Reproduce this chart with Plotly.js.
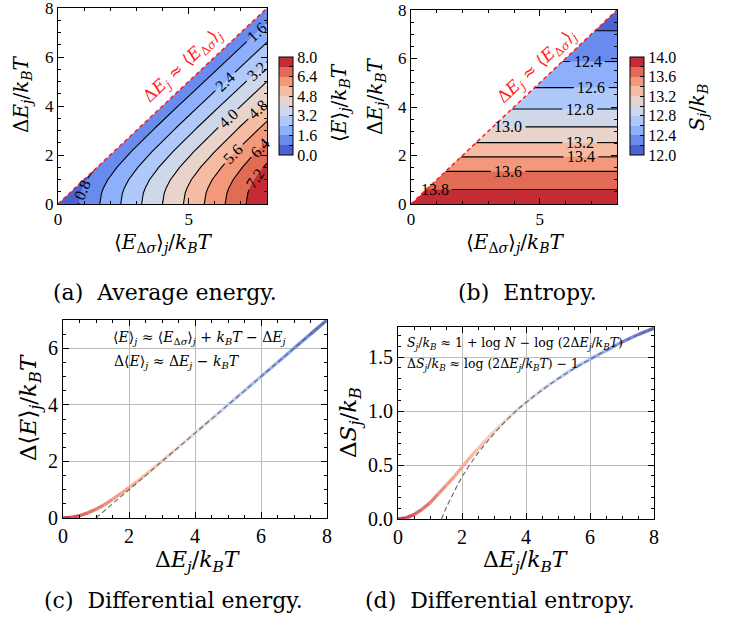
<!DOCTYPE html>
<html><head><meta charset="utf-8">
<script src="https://cdn.plot.ly/plotly-3.0.1.min.js"></script>
<style>html,body{margin:0;padding:0;background:#fff}#chart{width:746px;height:623px}</style>
</head><body><div id="chart"></div>
<script>
// sample values of ΔE_j/k_BT (also used for <E_Δσ>_j/k_BT grid)
const dE = [0,0.25,0.5,0.75,1,1.25,1.5,1.75,2,2.25,2.5,2.75,3,3.25,3.5,3.75,4,4.5,5,5.5,6,6.5,7,7.5,8];
// (c) differential energy Δ<E>_j/k_BT
const dEnergy = [0,0.02,0.08,0.18,0.31,0.47,0.66,0.86,1.07,1.30,1.53,1.77,2.01,2.26,2.51,2.75,3.00,3.50,4.00,4.50,5.00,5.50,6.00,6.50,7.00];
// (d) differential entropy ΔS_j/k_B
const dEntropy = [0,0.01,0.04,0.09,0.15,0.23,0.31,0.39,0.48,0.57,0.65,0.73,0.81,0.88,0.95,1.02,1.08,1.20,1.30,1.40,1.48,1.56,1.64,1.71,1.77];
// dashed asymptotes
const asymCX = [1,8], asymCY = [0,7];
const asymDX = [1.36,1.5,1.75,2,2.5,3,3.5,4,5,6,7,8];
const asymDY = [0,0.10,0.25,0.39,0.61,0.79,0.95,1.08,1.30,1.48,1.64,1.77];
// entropy at ΔE_j = 0 (top band of panel b)
const S0 = 13.86;
const rangeE = [0,8];
// contour levels and colour-bar ranges
const levelsA = [0.8,1.6,2.4,3.2,4.0,4.8,5.6,6.4,7.2], cbA = [0,8];
const levelsB = [12.2,12.4,12.6,12.8,13.0,13.2,13.4,13.6,13.8], cbB = [12,14];
// inline label placement: (a) ΔE_j where the label sits, (b) <E_Δσ>_j where it sits
const labelAtA = {'0.8':0.57,'1.6':7.0,'2.4':5.0,'3.2':5.4,'4.0':3.5,'4.8':3.85,'5.6':2.05,'6.4':2.3,'7.2':1.05};
const labelAtB = {'12.4':6.86,'12.6':7.0,'12.8':6.55,'13.0':3.77,'13.2':6.55,'13.4':6.6,'13.6':3.77,'13.8':0.93};

const cw = ['#3b4cc0','#5977e3','#7b9ff9','#9ebeff','#c0d4f5','#dddcdc','#f2cbb7','#f7ac8e','#ee8468','#d65244','#b40426'];
function hex2rgb(h){return [1,3,5].map(i=>parseInt(h.substr(i,2),16));}
function coolwarm(t){
  t=Math.max(0,Math.min(1,t)); const p=t*10; const i=Math.min(9,Math.floor(p)); const f=p-i;
  const a=hex2rgb(cw[i]), b=hex2rgb(cw[i+1]);
  return a.map((v,k)=>Math.round(v+(b[k]-v)*f));
}
const bandCol = Array.from({length:10},(_,k)=>'rgb('+coolwarm((k+0.5)/10).join(',')+')');
const bandCS = bandCol.map((c,k)=>[k/9,c]);
const stepCS = [];
bandCol.forEach((c,k)=>{stepCS.push([k/10,c]);stepCS.push([(k+1)/10,c]);});

const FONT = 'Liberation Serif, DejaVu Serif, serif';
const MATH = 'DejaVu Serif, serif';
const zA = dE.map((y,i)=>dE.map(x=>x-dEnergy[i]));
const zB = dE.map((y,i)=>dE.map(x=>S0-dEntropy[i]));

// pixel boxes of the panels
const box = {a:[58,267,8,204], b:[411,617,10,204], c:[63,327,320,518], d:[398,654,327,519]};
const px = p=>p/746, py = p=>1-p/623;

function lerp(xs, ys, v){
  for(let i=0;i<xs.length-1;i++){ if(v>=xs[i] && v<=xs[i+1]){ const t=(v-xs[i])/(xs[i+1]-xs[i]); return [ys[i]+t*(ys[i+1]-ys[i]), i]; } }
  return [null,-1];
}
// break a polyline around a label centre (pixel radius r)
function cutLine(xs, ys, cx, cy, r, ux, uy){
  const ox=[], oy=[]; let gap=false;
  for(let i=0;i<xs.length-1;i++){
    for(let s=0;s<20;s++){
      const t=s/20, x=xs[i]+t*(xs[i+1]-xs[i]), y=ys[i]+t*(ys[i+1]-ys[i]);
      const d=Math.hypot((x-cx)*ux,(y-cy)*uy);
      if(d<r){ if(!gap){ox.push(null);oy.push(null);gap=true;} }
      else { ox.push(x); oy.push(y); gap=false; }
    }
  }
  ox.push(xs[xs.length-1]); oy.push(ys[ys.length-1]);
  return [ox, oy];
}

function cbar(x, rng, step){
  const vals=[]; for(let k=0;k<=10;k++) vals.push(rng[0]+k*step);
  return {x:x, xanchor:'left', xpad:0, ypad:0, y:1-106/623, yanchor:'middle', len:98, lenmode:'pixels',
    thickness:14, thicknessmode:'pixels', outlinewidth:1, outlinecolor:'#000',
    tickvals:vals, ticktext:vals.map((v,k)=>k%2===0?v.toFixed(1):''), ticks:'inside', ticklen:4, tickcolor:'#000',
    tickfont:{family:FONT,size:16,color:'#000'}};
}
const traces = [];
const annotations = [];
traces.push({type:'contour', x:dE, y:dE, z:zA, xaxis:'x', yaxis:'y', colorscale:bandCS, showscale:false,
  contours:{start:levelsA[0],end:levelsA[levelsA.length-1],size:0.8,coloring:'fill',showlines:false},
  line:{width:0}, hoverinfo:'skip'});
traces.push({type:'contour', x:dE, y:dE, z:zB, xaxis:'x2', yaxis:'y2', colorscale:bandCS, showscale:false,
  contours:{start:levelsB[0],end:levelsB[levelsB.length-1],size:0.2,coloring:'fill',showlines:false},
  line:{width:0}, hoverinfo:'skip'});

// contour lines of (a) with inline labels
{
  const [x0,x1,y0,y1]=box.a, ux=(x1-x0)/8, uy=(y1-y0)/8;
  levelsA.forEach(L=>{
    const xs=dEnergy.map(v=>L+v), ys=dE.slice();
    const key=L.toFixed(1); const yl=labelAtA[key];
    let lx=xs, ly=ys;
    if(yl!==undefined){
      const [fv,i]=lerp(dE,dEnergy,yl); const xl=L+fv;
      const slope=(dEnergy[i+1]-dEnergy[i])/(dE[i+1]-dE[i]);
      const ang=-Math.atan2(uy, slope*ux)*180/Math.PI;
      [lx,ly]=cutLine(xs,ys,xl,yl,13,ux,uy);
      annotations.push({xref:'x',yref:'y',x:xl,y:yl,text:key,showarrow:false,textangle:ang,
        font:{family:FONT,size:16,color:'#000'},xanchor:'center',yanchor:'middle'});
    }
    traces.push({type:'scatter',mode:'lines',x:lx,y:ly,line:{color:'#000',width:1.1},xaxis:'x',yaxis:'y',hoverinfo:'skip',connectgaps:false});
  });
}
// contour lines of (b) with inline labels
{
  const [x0,x1,y0,y1]=box.b, ux=(x1-x0)/8, uy=(y1-y0)/8;
  levelsB.forEach(L=>{
    const [yL]=lerp(dEntropy,dE,S0-L);
    const xs=dE.slice(), ys=dE.map(()=>yL);
    const key=L.toFixed(1); const xl=labelAtB[key];
    let lx=xs, ly=ys;
    if(xl!==undefined){
      [lx,ly]=cutLine(xs,ys,xl,yL,17,ux,uy);
      annotations.push({xref:'x2',yref:'y2',x:xl,y:yL,text:key,showarrow:false,
        font:{family:FONT,size:16,color:'#000'},xanchor:'center',yanchor:'middle'});
    }
    traces.push({type:'scatter',mode:'lines',x:lx,y:ly,line:{color:'#000',width:1.1},xaxis:'x2',yaxis:'y2',hoverinfo:'skip',connectgaps:false});
  });
}
// colour bars
traces.push({type:'scatter',mode:'markers',x:[null],y:[null],xaxis:'x',yaxis:'y',hoverinfo:'skip',
  marker:{color:[cbA[0]],cmin:cbA[0],cmax:cbA[1],colorscale:stepCS,showscale:true,colorbar:cbar(279/746,cbA,0.8)}});
traces.push({type:'scatter',mode:'markers',x:[null],y:[null],xaxis:'x2',yaxis:'y2',hoverinfo:'skip',
  marker:{color:[cbB[0]],cmin:cbB[0],cmax:cbB[1],colorscale:stepCS,showscale:true,colorbar:cbar(630/746,cbB,0.2)}});
// white masks above the diagonal and red dashed diagonal
[['x','y'],['x2','y2']].forEach(([xa,ya])=>{
  traces.push({type:'scatter',mode:'lines',x:[rangeE[0],rangeE[1],rangeE[0],rangeE[0]],y:[rangeE[0],rangeE[1],rangeE[1],rangeE[0]],
    fill:'toself',fillcolor:'#ffffff',line:{width:0},xaxis:xa,yaxis:ya,showlegend:false,hoverinfo:'skip'});
  traces.push({type:'scatter',mode:'lines',x:rangeE,y:rangeE,line:{color:'#ff1a1a',width:1.5,dash:'4px,3px'},
    xaxis:xa,yaxis:ya,showlegend:false,hoverinfo:'skip'});
});
// coloured curves (c) and (d)
function segs(ys, xa, ya){
  for(let i=0;i<dE.length-1;i++){
    const c = coolwarm(1-(dE[i]+dE[i+1])/2/8);
    traces.push({type:'scatter',mode:'lines',x:[dE[i],dE[i+1]],y:[ys[i],ys[i+1]],
      line:{color:'rgba('+c.join(',')+',0.8)',width:3.4},xaxis:xa,yaxis:ya,showlegend:false,hoverinfo:'skip'});
  }
}
segs(dEnergy,'x3','y3');
segs(dEntropy,'x4','y4');
traces.push({type:'scatter',mode:'lines',x:asymCX,y:asymCY,line:{color:'#666',width:1.1,dash:'5px,3px'},xaxis:'x3',yaxis:'y3',showlegend:false});
traces.push({type:'scatter',mode:'lines',x:asymDX,y:asymDY,line:{color:'#666',width:1.1,dash:'5px,3px',shape:'spline'},xaxis:'x4',yaxis:'y4',showlegend:false});

function ax(anchor, domain, range, dtick, minor, grid, tsize, fmt){
  return {anchor:anchor, domain:domain, range:range, dtick:dtick, tick0:0, ticks:'inside', ticklen:6, tickcolor:'#000',
    mirror:'ticks', showline:true, linecolor:'#000', linewidth:1, zeroline:false, ticklabeloverflow:'allow',
    showgrid:grid, gridcolor:'#bcbcbc', gridwidth:1, tickformat:fmt||'',
    minor:{dtick:minor, ticks:'inside', ticklen:3, tickcolor:'#000', showgrid:false},
    tickfont:{family:FONT,size:tsize,color:'#000'}, fixedrange:true};
}
const layout = {
  width:746, height:623, margin:{l:0,r:0,t:0,b:0}, paper_bgcolor:'#fff', plot_bgcolor:'#fff', showlegend:false,
  font:{family:FONT,color:'#000'},
  xaxis: ax('y',[px(box.a[0]),px(box.a[1])],rangeE,5,1,false,17),
  yaxis: ax('x',[py(box.a[3]),py(box.a[2])],rangeE,2,0.5,false,17),
  xaxis2: ax('y2',[px(box.b[0]),px(box.b[1])],rangeE,5,1,false,17),
  yaxis2: ax('x2',[py(box.b[3]),py(box.b[2])],rangeE,2,0.5,false,17),
  xaxis3: ax('y3',[px(box.c[0]),px(box.c[1])],rangeE,2,0.5,true,20),
  yaxis3: ax('x3',[py(box.c[3]),py(box.c[2])],[0,7],2,0.5,true,20),
  xaxis4: ax('y4',[px(box.d[0]),px(box.d[1])],rangeE,2,0.5,true,20),
  yaxis4: ax('x4',[py(box.d[3]),py(box.d[2])],[0,1.78],0.5,0.1,true,20,'.1f'),
  annotations:annotations
};
const A = annotations;
function txt(x,y,t,size,opts){A.push(Object.assign({xref:'paper',yref:'paper',x:px(x),y:py(y),text:t,showarrow:false,
  font:{family:MATH,size:size,color:'#000'},xanchor:'center',yanchor:'middle'},opts||{}));}
const dEt = 'Δ<i>E<sub>j</sub></i>/<i>k<sub>B</sub>T</i>';
const Esig = '⟨<i>E</i><sub>Δ<i>σ</i></sub>⟩<sub><i>j</i></sub>';
txt(22,94,dEt,20,{textangle:-90});
txt(376,96,dEt,20,{textangle:-90});
txt(163,243,Esig+'/<i>k<sub>B</sub>T</i>',20);
txt(515,243,Esig+'/<i>k<sub>B</sub>T</i>',20);
txt(340,103,'⟨<i>E</i>⟩<sub><i>j</i></sub>/<i>k<sub>B</sub>T</i>',20,{textangle:-90});
txt(698,108,'<i>S<sub>j</sub></i>/<i>k<sub>B</sub></i>',20,{textangle:-90});
txt(30,408,'Δ⟨<i>E</i>⟩<sub><i>j</i></sub>/<i>k<sub>B</sub>T</i>',23,{textangle:-90});
txt(350,423,'Δ<i>S<sub>j</sub></i>/<i>k<sub>B</sub></i>',23,{textangle:-90});
txt(198,561,dEt,22);
txt(526,561,dEt,22);
txt(111,338,'⟨<i>E</i>⟩<sub><i>j</i></sub> ≈ '+Esig+' + <i>k<sub>B</sub>T</i> − Δ<i>E<sub>j</sub></i>',14,{xanchor:'left'});
txt(112,362,'Δ⟨<i>E</i>⟩<sub><i>j</i></sub> ≈ Δ<i>E<sub>j</sub></i> − <i>k<sub>B</sub>T</i>',14,{xanchor:'left'});
txt(405,343,'<i>S<sub>j</sub></i>/<i>k<sub>B</sub></i> ≈ 1 + log <i>N</i> − log (2Δ<i>E<sub>j</sub></i>/<i>k<sub>B</sub>T</i>)',12.5,{xanchor:'left'});
txt(405,364,'Δ<i>S<sub>j</sub></i>/<i>k<sub>B</sub></i> ≈ log (2Δ<i>E<sub>j</sub></i>/<i>k<sub>B</sub>T</i>) − 1',12.5,{xanchor:'left'});
const red = 'Δ<i>E<sub>j</sub></i> ≈ '+Esig;
A.push({xref:'x',yref:'y',x:4.8,y:5.65,text:red,showarrow:false,textangle:-43,font:{family:MATH,size:17,color:'#ff1a1a'}});
A.push({xref:'x2',yref:'y2',x:4.9,y:5.66,text:red,showarrow:false,textangle:-43,font:{family:MATH,size:17,color:'#ff1a1a'}});
const cap = {font:{family:MATH,size:22,color:'#000'}};
txt(165,292,'(a)\u00a0\u00a0Average energy.',22,cap);
txt(527,292,'(b)\u00a0\u00a0Entropy.',22,cap);
txt(173,600,'(c)\u00a0\u00a0Differential energy.',22,cap);
txt(500,600,'(d)\u00a0\u00a0Differential entropy.',22,cap);

Plotly.newPlot('chart', traces, layout, {displayModeBar:false, staticPlot:true});
</script></body></html>
